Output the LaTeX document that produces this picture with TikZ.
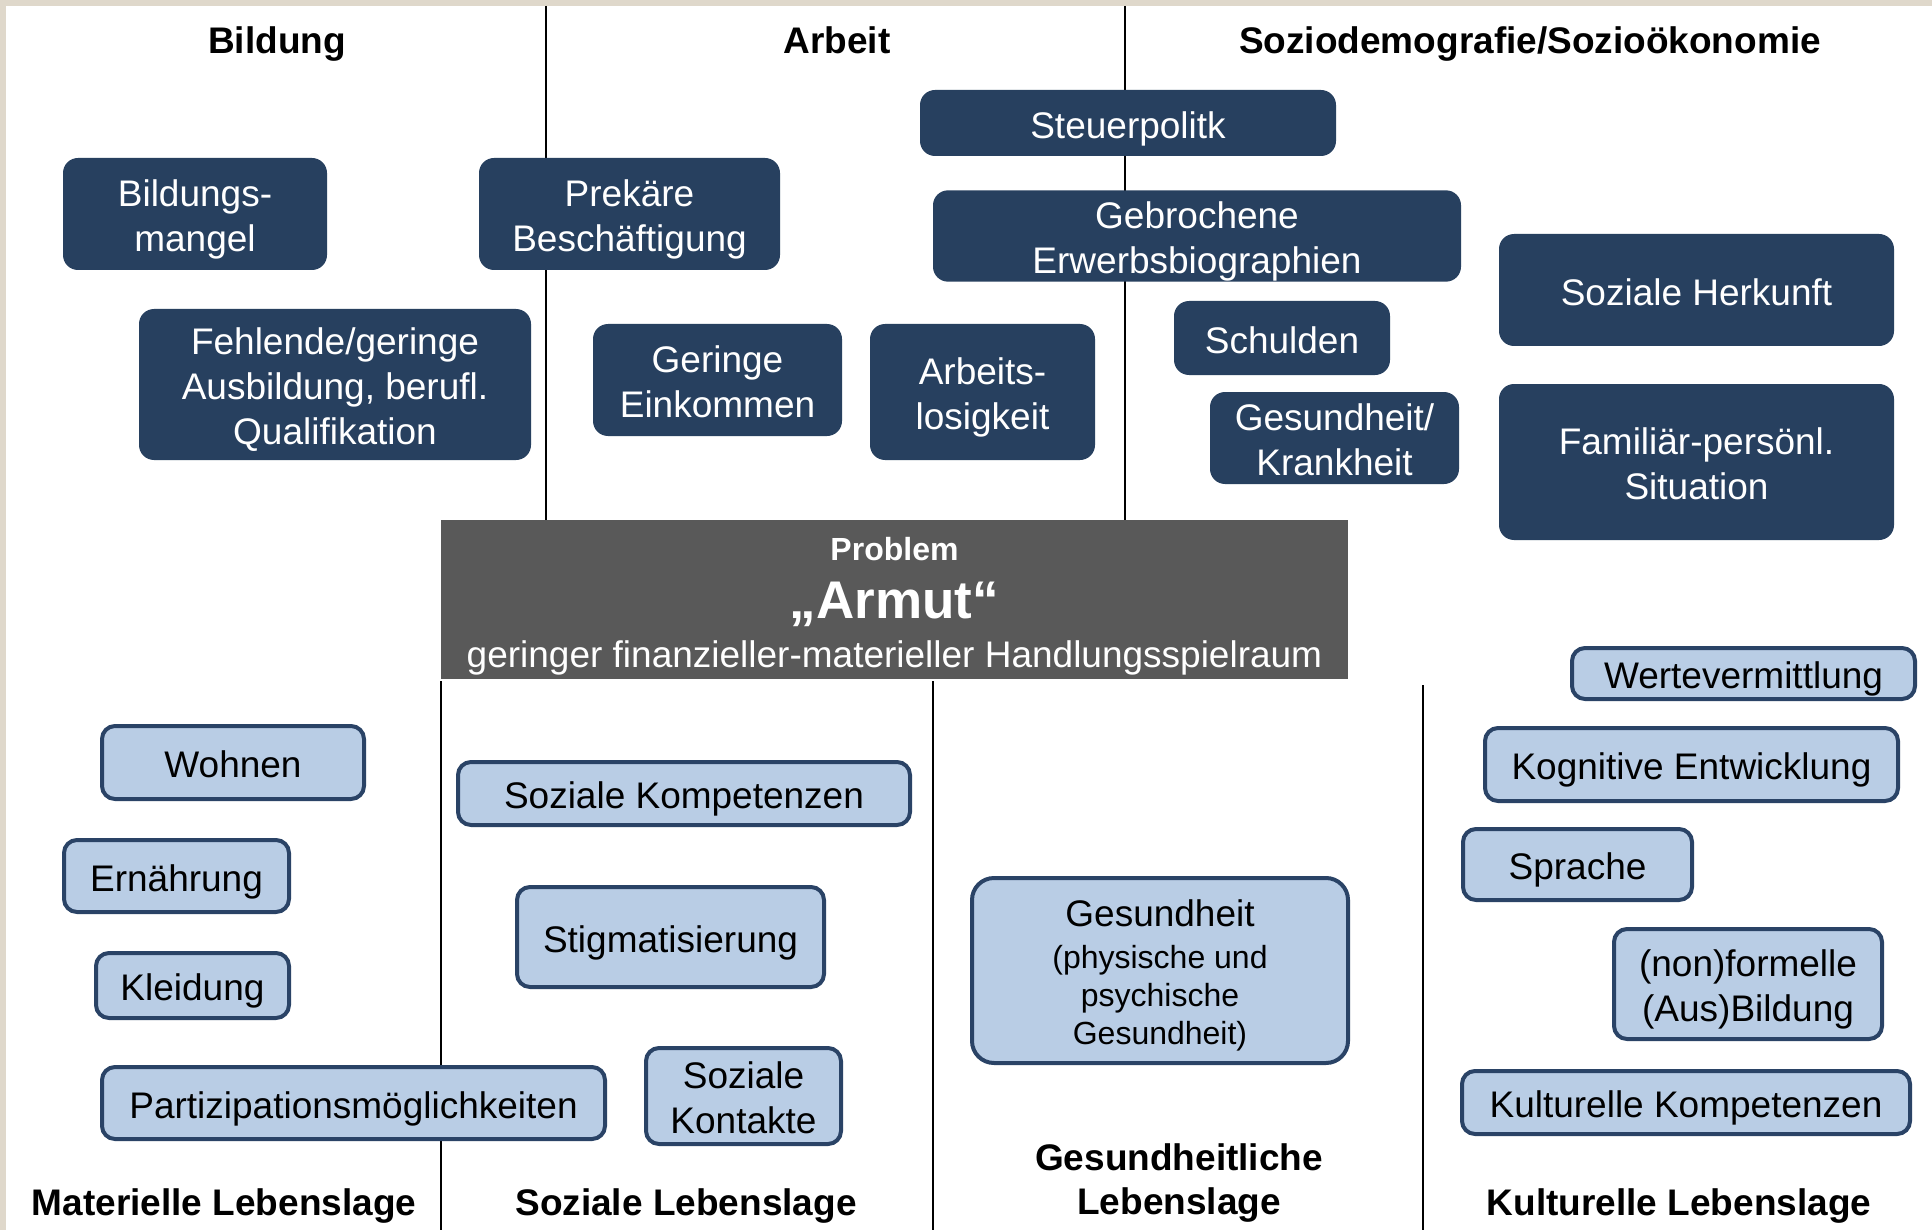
\documentclass[tikz,border=0pt]{standalone}
\usepackage{fontspec}
\setmainfont{Liberation Sans}
\definecolor{navybox}{HTML}{27405F}
\definecolor{paleblue}{HTML}{B9CDE5}
\definecolor{paleedge}{HTML}{2A4366}
\definecolor{problemgray}{HTML}{595959}
\definecolor{beige}{HTML}{DFD8CB}
\newcommand{\headstrut}{\rule[-0.212em]{0pt}{1.117em}}
\newcommand{\boxstrut}{\rule[-0.212em]{0pt}{1.252em}}
\newcommand{\topstrut}{\rule{0pt}{1.04em}}
\newcommand{\smalltext}{\fontsize{32}{38}\selectfont}
\tikzset{
  dims/.style n args={2}{minimum width=#1pt,minimum height=#2pt},
  darkbox/.style={execute at begin node={\boxstrut},execute at end node={\boxstrut},fill=navybox,text=white,rounded corners=15pt,inner sep=0pt,align=center,font=\fontsize{37}{45}\selectfont},
  lightbox/.style={execute at begin node={\boxstrut},execute at end node={\boxstrut},fill=paleblue,draw=paleedge,line width=4pt,rounded corners=13pt,inner sep=0pt,align=center,font=\fontsize{37}{45}\selectfont},
  head/.style={execute at begin node={\headstrut},execute at end node={\headstrut},font=\bfseries\fontsize{37}{44}\selectfont,align=center},
  divider/.style={line width=2pt}
}
\begin{document}
\begin{tikzpicture}[x=1pt,y=-1pt]
\fill[white] (0,0) rectangle (1932,1230);
\fill[beige] (0,0) rectangle (1932,6);
\fill[beige] (0,0) rectangle (6,1230);
\useasboundingbox (0,0) rectangle (1932,1230);

\draw[divider] (546,6) -- (546,520);
\draw[divider] (1125,6) -- (1125,520);
\draw[divider] (441,681) -- (441,1230);
\draw[divider] (933,681) -- (933,1230);
\draw[divider] (1423,685) -- (1423,1230);

\node[head] (bildung) at (277,41) {Bildung};
\node[head] (arbeit) at (837,41) {Arbeit};
\node[head] (sozio) at (1530,41) {Soziodemografie/Sozioökonomie};

\node[darkbox,dims={264}{112}] (mangel) at (195,214) {\topstrut Bildungs-\\mangel};
\node[darkbox,dims={392}{151}] (ausbildung) at (335,384.5) {\topstrut Fehlende/geringe\\Ausbildung, berufl.\\Qualifikation};
\node[darkbox,dims={301}{112}] (prekaer) at (629.5,214) {\topstrut Prekäre\\Beschäftigung};
\node[darkbox,dims={249}{112}] (einkommen) at (717.5,380) {\topstrut Geringe\\Einkommen};
\node[darkbox,dims={225}{136}] (arbeitslos) at (982.5,392) {\topstrut Arbeits-\\losigkeit};
\node[darkbox,dims={416}{66}] (steuer) at (1128,123) {Steuerpolitk};
\node[darkbox,dims={528}{90}] (erwerb) at (1197,236) {\topstrut Gebrochene\\Erwerbsbiographien};
\node[darkbox,dims={216}{74}] (schulden) at (1282,338) {Schulden};
\node[darkbox,dims={249}{92}] (krankheit) at (1334.5,438) {\topstrut Gesundheit/\\Krankheit};
\node[darkbox,dims={395}{112}] (herkunft) at (1696.5,290) {Soziale Herkunft};
\node[darkbox,dims={395}{156}] (familie) at (1696.5,462) {\topstrut Familiär-persönl.\\Situation};

\node[fill=problemgray,inner sep=0pt,dims={907}{159}] (armut) at (894.5,599.5) {};
\node[text=white,font=\bfseries\fontsize{32}{38}\selectfont] (problem) at (894.5,549) {Problem};
\node[text=white,font=\bfseries\fontsize{53}{60}\selectfont] (armutword) at (894.5,604) {„Armut“};
\node[text=white,font=\fontsize{37}{45}\selectfont] (spielraum) at (894.5,658) {geringer finanzieller-materieller Handlungsspielraum};

\node[lightbox,dims={262}{73}] (wohnen) at (233,762.5) {Wohnen};
\node[lightbox,dims={225}{72}] (ernaehrung) at (176.5,876) {Ernährung};
\node[lightbox,dims={193}{65}] (kleidung) at (192.5,985.5) {Kleidung};
\node[lightbox,dims={503}{72}] (partizipation) at (353.5,1103) {Partizipationsmöglichkeiten};
\node[lightbox,dims={452}{63}] (kompetenz) at (684,793.5) {Soziale Kompetenzen};
\node[lightbox,dims={307}{100}] (stigma) at (670.5,937) {Stigmatisierung};
\node[lightbox,dims={195}{96}] (kontakte) at (743.5,1096) {\topstrut Soziale\\Kontakte};
\node[lightbox,dims={376}{185},rounded corners=22pt] (gesundheit) at (1160,970.5)
  {\topstrut Gesundheit\\[-3pt]{\smalltext(physische und}\\[-7pt]{\smalltext psychische}\\[-7pt]{\smalltext Gesundheit)}};
\node[lightbox,dims={343}{51}] (werte) at (1743.5,673.5) {Wertevermittlung};
\node[lightbox,dims={413}{73}] (kognitiv) at (1691.5,764.5) {Kognitive Entwicklung};
\node[lightbox,dims={229}{71}] (sprache) at (1577.5,864.5) {Sprache};
\node[lightbox,dims={268}{110}] (formell) at (1748,984) {\topstrut(non)formelle\\(Aus)Bildung};
\node[lightbox,dims={448}{63}] (kultkomp) at (1686,1102.5) {Kulturelle Kompetenzen};

\node[head] (materiell) at (224,1203) {Materielle Lebenslage};
\node[head] (sozial) at (686,1203) {Soziale Lebenslage};
\node[head] (gesundlage) at (1179,1180) {\rule{0pt}{0.9em}Gesundheitliche\\Lebenslage};
\node[head] (kulturell) at (1679,1203) {Kulturelle Lebenslage};
\end{tikzpicture}
\end{document}
